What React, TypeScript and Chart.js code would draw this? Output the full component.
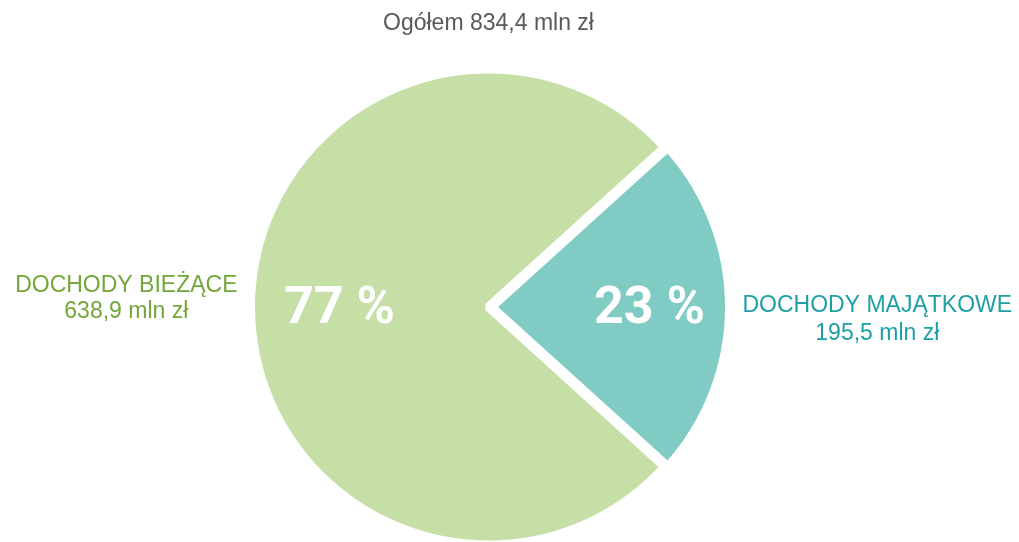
import React, { useEffect, useRef } from "react";
import { Chart, registerables } from "chart.js";

Chart.register(...registerables);

const categories = ["DOCHODY BIEŻĄCE", "DOCHODY MAJĄTKOWE"];
const amounts = [638.9, 195.5];
const amountLabels = ["638,9 mln zł", "195,5 mln zł"];
const percentLabels = ["77 %", "23 %"];
const titleText = "Ogółem 834,4 mln zł";
const sliceColors = ["#c5dfa6", "#80cbc3"];
const labelColors = ["#74a63a", "#1e9fa5"];

const total = amounts.reduce((a, b) => a + b, 0);
const smallShareDeg = (amounts[1] / total) * 360;

const labelPlugin = {
  id: "pieLabels",
  afterDatasetsDraw(chart: any) {
    const ctx = chart.ctx;
    const meta = chart.getDatasetMeta(0);
    const pctFactor = [0.626, 0.664];
    const line1Dy = [-15, 5];
    const lineGap = [26, 28];
    meta.data.forEach((arc: any, i: number) => {
      const opts = arc.options;
      const mid = (arc.startAngle + arc.endAngle) / 2;
      const shift = (opts.offset || 0) / 4;
      const cx = arc.x + Math.cos(mid) * shift;
      const cy = arc.y + Math.sin(mid) * shift;
      const r = arc.outerRadius;
      ctx.save();
      // percentage
      ctx.font = "bold 52px Roboto";
      ctx.fillStyle = "#ffffff";
      ctx.textAlign = "center";
      ctx.textBaseline = "alphabetic";
      const px = cx + Math.cos(mid) * r * pctFactor[i];
      ctx.fillText(percentLabels[i], px, cy + 16);
      // outer labels
      ctx.font = "23px 'Liberation Sans'";
      ctx.fillStyle = labelColors[i];
      const w = ctx.measureText(categories[i]).width;
      const dir = Math.cos(mid) < 0 ? -1 : 1;
      const edge = cx + dir * (r + 13);
      const centerX = dir < 0 ? edge - w / 2 : edge + w / 2;
      ctx.fillText(categories[i], centerX, cy + line1Dy[i]);
      ctx.fillText(amountLabels[i], centerX, cy + line1Dy[i] + lineGap[i]);
      ctx.restore();
    });
  },
};

export default function App() {
  const canvasRef = useRef<HTMLCanvasElement | null>(null);
  useEffect(() => {
    document.body.style.margin = "0";
    const chart = new Chart(canvasRef.current as HTMLCanvasElement, {
      type: "pie",
      data: {
        labels: categories,
        datasets: [
          {
            data: amounts,
            backgroundColor: sliceColors,
            borderColor: "#ffffff",
            borderWidth: 9,
            offset: [0, 12],
            radius: 238,
            clip: false,
          } as any,
        ],
      },
      options: {
        animation: false,
        responsive: false,
        rotation: 90 + smallShareDeg / 2,
        layout: { padding: { left: 0, right: 42, top: 0, bottom: 0 } },
        plugins: {
          legend: { display: false },
          tooltip: { enabled: false },
          title: {
            display: true,
            text: titleText,
            color: "#595959",
            font: { family: "'Liberation Sans'", size: 23, weight: "normal" },
            padding: { top: 10, bottom: 34.4 },
          },
        },
      } as any,
      plugins: [labelPlugin],
    });
    return () => chart.destroy();
  }, []);
  return (
    <div style={{ position: "fixed", left: 0, top: 0, width: 1019, height: 542, background: "#fff" }}>
      <canvas ref={canvasRef} width={1019} height={542} style={{ width: 1019, height: 542 }} />
    </div>
  );
}
